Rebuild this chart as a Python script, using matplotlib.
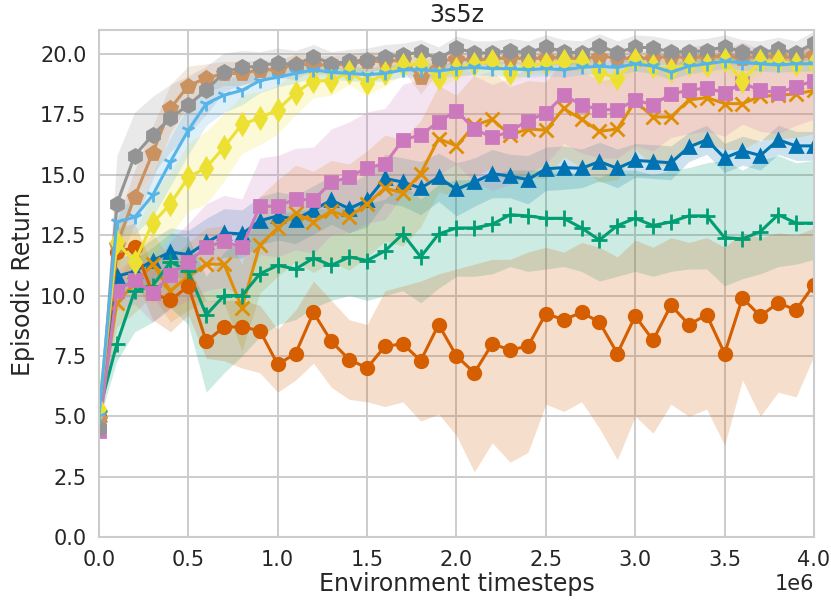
import matplotlib
matplotlib.use("Agg")
import matplotlib.pyplot as plt
import seaborn as sns
import numpy as np

# evaluation steps every 100k timesteps
steps = np.arange(41) * 1e5

# mean episodic return per run
blue_mean = [5.1, 10.8, 11.0, 11.45, 11.8, 11.7, 12.2, 12.6, 12.55, 13.1, 13.3, 13.15, 13.55, 13.95, 13.6,
             13.95, 14.85, 14.7, 14.45, 14.9, 14.4, 14.7, 15.05, 14.95, 14.8, 15.25, 15.3, 15.27, 15.55,
             15.27, 15.6, 15.55, 15.5, 16.15, 16.45, 15.7, 16.0, 15.8, 16.45, 16.2, 16.2]
orange_mean = [5.0, 9.7, 10.5, 11.3, 10.2, 10.8, 11.3, 11.3, 9.5, 12.1, 12.8, 13.4, 13.05, 13.5, 13.25,
               13.8, 14.45, 14.25, 15.05, 16.5, 16.2, 17.05, 17.3, 16.65, 16.9, 16.85, 17.75, 17.3, 16.8,
               16.9, 18.05, 17.4, 17.4, 18.1, 18.2, 17.95, 17.95, 18.25, 18.3, 18.35, 18.5]
green_mean = [5.2, 8.0, 10.2, 10.4, 11.4, 11.0, 9.2, 10.0, 10.0, 10.9, 11.25, 11.1, 11.55, 11.25, 11.6,
              11.45, 11.85, 12.55, 11.6, 12.55, 12.8, 12.8, 12.95, 13.35, 13.3, 13.2, 13.2, 12.8, 12.3,
              12.9, 13.2, 12.9, 13.05, 13.3, 13.3, 12.4, 12.35, 12.65, 13.35, 13.0, 13.0]
red_mean = [5.0, 11.8, 12.0, 10.1, 9.8, 10.4, 8.1, 8.7, 8.7, 8.55, 7.15, 7.6, 9.3, 8.1, 7.35,
            7.0, 7.9, 8.0, 7.3, 8.8, 7.5, 6.8, 8.0, 7.75, 7.9, 9.25, 9.0, 9.3, 8.9,
            7.6, 9.15, 8.15, 9.6, 8.8, 9.2, 7.6, 9.9, 9.15, 9.7, 9.4, 10.45]
pink_mean = [4.4, 10.2, 10.65, 10.1, 10.85, 11.4, 12.0, 12.25, 12.0, 13.7, 13.7, 14.0, 13.95, 14.7, 14.9,
             15.3, 15.45, 16.45, 16.65, 17.2, 17.65, 16.9, 16.55, 16.8, 17.25, 17.55, 18.3, 17.9, 17.7,
             17.7, 18.1, 17.9, 18.35, 18.5, 18.6, 18.4, 18.8, 18.5, 18.4, 18.65, 18.9]
brown_mean = [4.9, 12.1, 14.1, 15.9, 17.75, 18.7, 19.0, 19.2, 19.2, 19.35, 19.35, 19.6, 19.55, 19.55, 19.6,
              19.7, 19.7, 19.75, 19.05, 19.7, 19.8, 19.75, 19.8, 19.85, 19.8, 19.85, 19.85, 19.8, 19.9,
              19.85, 19.8, 19.85, 19.9, 19.85, 19.9, 19.9, 19.85, 19.9, 19.9, 19.85, 19.95]
gray_mean = [4.5, 13.8, 15.8, 16.65, 17.35, 17.9, 18.5, 19.25, 19.45, 19.5, 19.65, 19.55, 19.9, 19.6, 19.7,
             19.75, 19.9, 19.95, 20.1, 19.8, 20.25, 20.05, 20.05, 20.15, 20.05, 20.3, 20.1, 20.05, 20.35,
             20.05, 20.3, 20.25, 20.1, 20.1, 20.15, 20.3, 20.1, 20.05, 20.2, 20.05, 20.45]
yellow_mean = [5.3, 12.2, 11.4, 13.0, 13.8, 14.9, 15.3, 16.15, 17.1, 17.35, 17.7, 18.4, 18.9, 18.9, 19.25,
               18.8, 19.2, 19.55, 19.6, 19.0, 19.4, 19.6, 19.7, 19.2, 19.55, 19.6, 19.7, 19.7, 19.25,
               19.0, 19.75, 19.5, 19.35, 19.6, 19.55, 19.75, 18.9, 19.7, 19.7, 19.6, 19.65]
sky_mean = [5.0, 13.05, 13.25, 14.15, 15.55, 16.85, 17.95, 18.3, 18.5, 18.9, 19.05, 19.2, 19.35, 19.25, 19.2,
            19.15, 19.2, 19.35, 19.35, 19.3, 19.4, 19.45, 19.4, 19.4, 19.35, 19.4, 19.35, 19.45, 19.5,
            19.45, 19.6, 19.5, 19.25, 19.5, 19.6, 19.7, 19.65, 19.6, 19.55, 19.6, 19.6]

# spread of the shaded band around each mean
blue_sd = [0.2, 0.7, 0.8, 0.9, 1.0, 1.0, 1.0, 1.0, 1.0, 1.0, 1.0, 1.0, 1.0, 1.0, 1.0, 1.1, 1.0, 1.0, 1.1, 1.0,
           1.1, 1.0, 1.0, 0.9, 1.0, 0.9, 0.9, 0.8, 0.8, 0.8, 0.7, 0.7, 0.7, 0.6, 0.6, 0.6, 0.6, 0.6, 0.6, 0.6, 0.6]
orange_sd = [0.3, 1.0, 1.2, 1.3, 1.3, 1.4, 1.5, 1.6, 1.8, 2.0, 2.0, 2.0, 2.1, 2.1, 2.2, 2.2, 2.2, 2.2, 2.2, 2.2,
             2.1, 2.1, 2.0, 2.0, 2.0, 2.0, 2.0, 2.0, 2.1, 2.1, 2.0, 2.0, 2.0, 1.9, 1.9, 1.9, 1.9, 1.8, 1.8, 1.8, 1.8]
pink_sd = [0.3, 0.8, 1.0, 1.2, 1.4, 1.6, 1.8, 1.9, 2.0, 2.0, 2.1, 2.1, 2.2, 2.2, 2.3, 2.3, 2.3, 2.3, 2.3, 2.2,
           2.2, 2.2, 2.2, 2.2, 2.2, 2.1, 2.0, 2.0, 2.0, 2.0, 1.9, 1.9, 1.8, 1.8, 1.8, 1.8, 1.7, 1.7, 1.7, 1.6, 1.6]
brown_sd = [0.3, 1.0, 1.1, 1.1, 1.0, 0.8, 0.6, 0.5, 0.5, 0.4, 0.4, 0.4, 0.4, 0.4, 0.4, 0.4, 0.4, 0.4, 0.7, 0.4,
            0.3, 0.3, 0.3, 0.3, 0.3, 0.3, 0.3, 0.3, 0.3, 0.3, 0.3, 0.3, 0.3, 0.3, 0.3, 0.3, 0.3, 0.3, 0.3, 0.3, 0.3]
gray_sd = [0.4, 2.0, 1.8, 1.6, 1.4, 1.2, 1.0, 0.8, 0.7, 0.6, 0.6, 0.6, 0.5, 0.5, 0.5, 0.5, 0.5, 0.5, 0.5, 0.5,
           0.5, 0.5, 0.5, 0.5, 0.5, 0.5, 0.5, 0.5, 0.5, 0.5, 0.5, 0.5, 0.5, 0.5, 0.5, 0.5, 0.5, 0.5, 0.5, 0.5, 0.5]
yellow_sd = [0.3, 1.0, 1.2, 1.3, 1.3, 1.4, 1.5, 1.4, 1.2, 1.1, 1.0, 0.9, 0.7, 0.6, 0.5, 0.5, 0.5, 0.4, 0.4, 0.4,
             0.4, 0.4, 0.4, 0.4, 0.4, 0.4, 0.4, 0.4, 0.4, 0.4, 0.4, 0.4, 0.4, 0.4, 0.4, 0.4, 0.4, 0.4, 0.4, 0.4, 0.4]
sky_sd = [0.3, 0.6, 0.7, 0.9, 1.0, 1.0, 0.9, 0.7, 0.6, 0.5, 0.4, 0.4, 0.3, 0.3, 0.3, 0.3, 0.3, 0.3, 0.3, 0.3,
          0.3, 0.3, 0.3, 0.3, 0.3, 0.3, 0.3, 0.3, 0.3, 0.3, 0.3, 0.3, 0.3, 0.3, 0.3, 0.3, 0.3, 0.3, 0.3, 0.3, 0.3]

# the two noisiest runs have lopsided bands
green_lo = [4.8, 7.3, 8.5, 8.9, 9.5, 8.8, 6.0, 6.8, 7.5, 8.3, 8.8, 9.0, 9.5, 9.8, 10.0, 9.8, 10.0, 10.2, 9.7, 10.3,
            10.8, 10.8, 10.9, 11.2, 11.0, 11.1, 11.2, 11.0, 10.6, 10.8, 11.0, 10.8, 11.0, 11.1, 11.1, 10.4, 10.7,
            10.9, 11.2, 11.3, 11.5]
green_hi = [5.6, 9.8, 11.5, 12.0, 12.6, 12.4, 10.8, 11.8, 12.4, 13.0, 13.4, 13.5, 13.6, 13.6, 13.8, 13.8, 14.0,
            14.6, 14.0, 14.6, 14.8, 14.8, 15.0, 15.2, 15.2, 15.2, 15.2, 15.0, 14.9, 15.2, 15.2, 15.0, 15.2, 15.3,
            15.5, 15.6, 15.2, 15.6, 15.8, 15.5, 15.6]
red_lo = [4.5, 10.5, 10.8, 9.0, 8.5, 9.2, 7.4, 7.3, 7.0, 6.8, 6.0, 6.5, 7.2, 6.2, 5.7, 5.6, 5.4, 5.6, 4.8, 5.1,
          4.2, 2.7, 3.9, 3.1, 3.5, 5.5, 5.2, 5.6, 4.5, 3.2, 5.0, 4.3, 5.5, 5.0, 5.3, 3.8, 6.5, 5.0, 6.0, 5.8, 7.5]
red_hi = [5.5, 12.8, 13.0, 11.2, 10.8, 11.2, 9.8, 9.8, 9.8, 9.6, 8.6, 9.4, 10.6, 9.8, 9.0, 8.8, 10.2, 10.4,
          10.6, 10.9, 11.1, 11.3, 11.5, 11.5, 11.8, 12.0, 11.8, 12.2, 12.0, 11.6, 12.3, 12.0, 12.4, 12.2, 12.4,
          12.0, 12.6, 12.4, 12.6, 12.5, 12.8]

sns.set_theme(style="whitegrid")
plt.rcParams['font.family'] = ['DejaVu Sans']

fig = plt.figure(figsize=(8.31, 6.07), dpi=100)
ax = fig.add_axes([0.1191, 0.1153, 0.8604, 0.8353])

pal = sns.color_palette("colorblind")
runs = [
    (blue_mean, np.array(blue_mean) - blue_sd, np.array(blue_mean) + blue_sd, pal[0], '^', 9),
    (orange_mean, np.array(orange_mean) - orange_sd, np.array(orange_mean) + orange_sd, pal[1], 'x', 10),
    (green_mean, green_lo, green_hi, pal[2], '+', 11),
    (red_mean, red_lo, red_hi, pal[3], 'o', 9),
    (pink_mean, np.array(pink_mean) - pink_sd, np.array(pink_mean) + pink_sd, pal[4], 's', 8.5),
    (brown_mean, np.array(brown_mean) - brown_sd, np.array(brown_mean) + brown_sd, pal[5], 'p', 10),
    (gray_mean, np.array(gray_mean) - gray_sd, np.array(gray_mean) + gray_sd, pal[7], 'h', 10),
    (yellow_mean, np.array(yellow_mean) - yellow_sd, np.array(yellow_mean) + yellow_sd, pal[8], 'd', 10),
    (sky_mean, np.array(sky_mean) - sky_sd, np.array(sky_mean) + sky_sd, pal[9], '1', 10),
]

for mean, lo, hi, col, mk, ms in runs:
    ax.fill_between(steps, lo, hi, color=col, alpha=0.2, linewidth=0)
    ax.plot(steps, mean, color=col, marker=mk, markersize=ms, linewidth=2.2, markeredgewidth=2)

ax.set_xlim(0, 4e6)
ax.set_ylim(0, 21)
ax.set_yticks(np.arange(0, 20.1, 2.5))
ax.set_xticks(np.arange(0, 4.01e6, 0.5e6))
ax.tick_params(labelsize=15, pad=3)
ax.xaxis.get_offset_text().set_fontsize(15)
for s in ax.spines.values():
    s.set_linewidth(1.5)
    s.set_color('#cccccc')
ax.grid(True, linewidth=1.4, color='#cccccc')

ax.set_title('3s5z', fontsize=17)
ax.set_xlabel('Environment timesteps', fontsize=17, labelpad=2)
ax.set_ylabel('Episodic Return', fontsize=17)

fig.savefig('out.png', dpi=100)
